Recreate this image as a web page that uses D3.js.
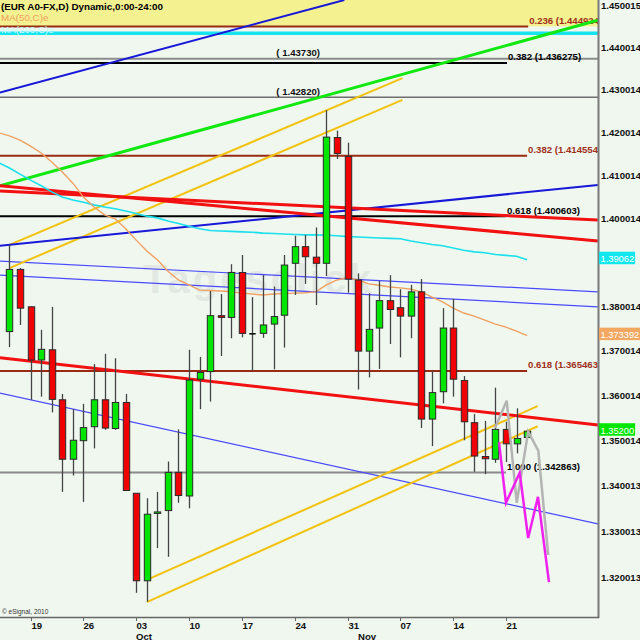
<!DOCTYPE html>
<html><head><meta charset="utf-8">
<script src="https://cdn.jsdelivr.net/npm/d3@7"></script>
<style>
body{margin:0;background:#eff7ef}
svg{display:block}
text{font-family:"Liberation Sans",Arial,sans-serif}
</style></head>
<body><svg id="c" width="640" height="640"></svg>
<script>
// ---------------- DATA ----------------
const dates = ["09-16","09-17","09-20","09-21","09-22","09-23","09-24","09-27","09-28","09-29","09-30","10-01",
"10-04","10-05","10-06","10-07","10-08","10-11","10-12","10-13","10-14","10-15","10-18","10-19","10-20","10-21","10-22",
"10-25","10-26","10-27","10-28","10-29","11-01","11-02","11-03","11-04","11-05","11-08","11-09","11-10","11-11","11-12",
"11-15","11-16","11-17","11-18","11-19","11-22","11-23","11-24"];
const open  = [1.3743,1.3884,1.3799,1.3679,1.3702,1.3590,1.3458,1.3499,1.3530,1.3590,1.3526,1.3584,1.3383,1.3192,1.3339,1.3345,1.3429,1.3377,1.3636,1.3653,1.3779,1.3775,1.3877,1.3738,1.3739,1.3760,1.3780,1.3898,1.3936,1.3912,1.3898,1.4188,1.4144,1.3860,1.3699,1.3751,1.3813,1.3797,1.3778,1.3833,1.3547,1.3608,1.3751,1.3633,1.3539,1.3464,1.3458,1.3524,1.3492,1.3506];
const high  = [1.3940,1.3887,1.3800,1.3747,1.3799,1.3603,1.3569,1.3581,1.3670,1.3693,1.3683,1.3603,1.3383,1.3372,1.3386,1.3453,1.3524,1.3702,1.3686,1.3835,1.3828,1.3896,1.3917,1.3821,1.3871,1.3845,1.3917,1.3961,1.3963,1.3980,1.4252,1.4204,1.4176,1.3875,1.3830,1.3858,1.3871,1.3839,1.3849,1.3862,1.3655,1.3796,1.3817,1.3643,1.3558,1.3543,1.3617,1.3541,1.3571,1.3521];
const low   = [1.3708,1.3758,1.3590,1.3597,1.3562,1.3386,1.3422,1.3364,1.3482,1.3523,1.3523,1.3389,1.3166,1.3147,1.3263,1.3244,1.3362,1.3350,1.3569,1.3586,1.3688,1.3728,1.3730,1.3655,1.3729,1.3658,1.3707,1.3826,1.3851,1.3803,1.3869,1.4138,1.3831,1.3613,1.3640,1.3659,1.3715,1.3685,1.3728,1.3527,1.3487,1.3582,1.3597,1.3500,1.3430,1.3425,1.3450,1.3452,1.3471,1.3506];
const close = [1.3884,1.3796,1.3679,1.3703,1.3591,1.3458,1.3500,1.3528,1.3590,1.3527,1.3584,1.3389,1.3192,1.3337,1.3342,1.3429,1.3378,1.3634,1.3651,1.3779,1.3775,1.3877,1.3739,1.3738,1.3758,1.3777,1.3894,1.3936,1.3913,1.3898,1.4189,1.4151,1.3862,1.3699,1.3748,1.3813,1.3793,1.3778,1.3833,1.3547,1.3606,1.3751,1.3636,1.3541,1.3465,1.3459,1.3524,1.3492,1.3504,1.3520];

// moving averages, bar index -1 .. 49
const maIndex = d3.range(-1, 50);
const ma50  = [1.4199,1.4192,1.4182,1.4168,1.4152,1.4131,1.4108,1.4082,1.4050,1.4027,1.4009,1.4000,1.3977,1.3951,1.3926,1.3906,1.3880,1.3860,1.3849,1.3837,1.3836,1.3835,1.3833,1.3830,1.3828,1.3826,1.3828,1.3829,1.3830,1.3831,1.3833,1.3849,1.3860,1.3865,1.3860,1.3851,1.3848,1.3844,1.3842,1.3839,1.3833,1.3821,1.3810,1.3796,1.3785,1.3778,1.3769,1.3760,1.3753,1.3744,1.3734];
const ma200 = [1.4129,1.4117,1.4103,1.4089,1.4076,1.4062,1.4050,1.4043,1.4038,1.4032,1.4027,1.4023,1.4018,1.4012,1.4006,1.4002,1.3995,1.3989,1.3983,1.3977,1.3973,1.3972,1.3971,1.3970,1.3969,1.3967,1.3966,1.3965,1.3964,1.3963,1.3963,1.3962,1.3961,1.3959,1.3958,1.3957,1.3956,1.3955,1.3954,1.3949,1.3945,1.3941,1.3938,1.3933,1.3928,1.3924,1.3922,1.3918,1.3916,1.3914,1.3906];

// trend lines: [startIndex, startPrice, endIndex, endPrice]
const trendBlueThick = [[-0.9,1.4293,31.7,1.4512],[-0.9,1.3938,55.7,1.4078]];
const trendGreen     = [[-0.9,1.4076,55.7,1.4464]];
const trendRed       = [[-0.9,1.4076,55.7,1.3949],[-0.9,1.4064,55.7,1.3997],[-0.9,1.3684,55.7,1.3534]];
const trendBlueThin  = [[-0.9,1.3903,55.7,1.3833],[-0.9,1.3871,55.7,1.3799],[-0.9,1.3605,55.7,1.3316]];
const trendGold      = [[0,1.3940,37.2,1.4327],[0,1.3887,37.2,1.4276],[13,1.3194,50,1.3576],[13,1.3146,50,1.3531]];

// projections
const grayIdx = [45.96,47.07,48.02,49.1,50.06,51.0];
const grayVal = [1.3527,1.3588,1.3362,1.3519,1.3477,1.3248];
const magIdx  = [46.34,47.0,48.3,49.1,50.03,51.07];
const magVal  = [1.3496,1.3362,1.3428,1.3285,1.3375,1.3189];

// fibonacci levels
const fibRatio = ["0.236","0.382","0.382","0.618","0.618","1.000"];
const fibPrice = [1.444924,1.436275,1.414554,1.400603,1.365463,1.342863];
const fibEnd   = [49.1,47.1,49.0,47.0,49.0,47.0];
// plain horizontal levels
const levelPrice = [1.43730,1.42820];
const levelLabelAt = [29.4,29.4];
const cyanLevel = 1.4433;

// axis ticks
const yTicks = [1.450015,1.440014,1.430014,1.420014,1.410014,1.400014,1.390014,1.380014,1.370014,1.360014,1.350014,1.340013,1.330013,1.320013];
const xTickIdx = [2,7,12,17,22,27,32,37,42,47];
const xTickLabel = ["19","26","03","10","17","24","31","07","14","21"];
const monthIdx = [12,33];
const monthLabel = ["Oct","Nov"];

// last values
const lastMA200 = 1.39062, lastMA50 = 1.373392, lastClose = 1.35200;

// ---------------- DRAW ----------------
const W=640,H=640,PR=598,PB=617;
const svg=d3.select('#c');
svg.append('rect').attr('width',W).attr('height',H).attr('fill','#eff7ef');
const x=d3.scaleLinear().domain([0,49]).range([9.47,527.1]);
const y=d3.scaleLog().domain([1.32,1.45]).range([577.1,5.06]);
svg.append('defs').append('clipPath').attr('id','clip').append('rect')
  .attr('x',0).attr('y',0).attr('width',PR).attr('height',PB);
const g=svg.append('g').attr('clip-path','url(#clip)');

// yellow band above 0.236
g.append('rect').attr('x',0).attr('y',0).attr('width',PR).attr('height',y(fibPrice[0])).attr('fill','#f3f190');

// watermark
g.append('text').attr('x',143).attr('y',293).text('Tagesclick')
  .attr('font-size',40).attr('font-weight','bold').attr('fill','#e2e9e2').attr('letter-spacing',3);

// cyan level
g.append('line').attr('x1',0).attr('x2',PR).attr('y1',y(cyanLevel)).attr('y2',y(cyanLevel))
  .attr('stroke','#16e4ee').attr('stroke-width',3.5);
// plain levels
const lvlStyle=[{c:'#8c8c8c',w:2},{c:'#6e6e6e',w:1.5}];
levelPrice.forEach((p,i)=>{
  g.append('line').attr('x1',0).attr('x2',PR).attr('y1',y(p)).attr('y2',y(p))
   .attr('stroke',lvlStyle[i].c).attr('stroke-width',lvlStyle[i].w);
  g.append('text').attr('x',x(levelLabelAt[i])).attr('y',y(p)-2.5).attr('text-anchor','end')
   .attr('font-size',9.6).attr('font-weight','bold').attr('fill','#111').text('( '+p.toFixed(5)+')');
});
// fib levels
const fibLine=['#9a2a12','#000','#9a2a12','#000','#9a2a12','#8a8a8a'];
const fibText=['#a0301a','#000','#a0301a','#000','#a0301a','#000'];
fibPrice.forEach((p,i)=>{
  const xe=x(fibEnd[i]);
  g.append('line').attr('x1',0).attr('x2',xe).attr('y1',y(p)).attr('y2',y(p))
   .attr('stroke',fibLine[i]).attr('stroke-width',2);
  g.append('text').attr('x',xe+1).attr('y',y(p)-2.5).attr('font-size',9.6).attr('font-weight','bold')
   .attr('fill',fibText[i]).text(fibRatio[i]+' ('+p.toFixed(6)+')');
});

// trend lines
function tl(arr,color,w){
  arr.forEach(d=>g.append('line').attr('x1',x(d[0])).attr('y1',y(d[1])).attr('x2',x(d[2])).attr('y2',y(d[3]))
    .attr('stroke',color).attr('stroke-width',w));
}
tl(trendBlueThin,'#4a4aff',1.2);
tl(trendGold,'#f2c20c',2);
tl(trendBlueThick,'#1818d8',2);
tl(trendGreen,'#10e810',3);
tl(trendRed,'#f21010',3);

// moving averages
const maLine=d3.line().x((d,i)=>x(maIndex[i])).y(d=>y(d));
g.append('path').datum(ma200).attr('d',maLine).attr('fill','none').attr('stroke','#18e0ec').attr('stroke-width',1.6);
g.append('path').datum(ma50).attr('d',maLine).attr('fill','none').attr('stroke','#f0a060').attr('stroke-width',1.4);

// candles
const bw=6.4;
const cg=g.append('g');
dates.forEach((dt,i)=>{
  const cx=Math.round(x(i))+0.5;
  cg.append('line').attr('x1',cx).attr('x2',cx).attr('y1',y(high[i])).attr('y2',y(low[i]))
    .attr('stroke','#444').attr('stroke-width',1.3);
  const o=open[i],c=close[i];
  if(o===c){
    cg.append('line').attr('x1',cx-bw/2).attr('x2',cx+bw/2).attr('y1',y(o)).attr('y2',y(o))
      .attr('stroke','#111').attr('stroke-width',1.6);
  } else {
    const top=y(Math.max(o,c)),bot=y(Math.min(o,c));
    cg.append('rect').attr('x',cx-bw/2).attr('y',top).attr('width',bw).attr('height',Math.max(bot-top,1.5))
      .attr('fill',c>o?'#00e600':'#f00000').attr('stroke','#2a2a2a').attr('stroke-width',1);
  }
});

// projections
const zl=(ix)=>d3.line().x((d,i)=>x(ix[i])).y(d=>y(d));
g.append('path').datum(grayVal).attr('d',zl(grayIdx)).attr('fill','none').attr('stroke','#b4b4b4').attr('stroke-width',2.5);
g.append('path').datum(magVal).attr('d',zl(magIdx)).attr('fill','none').attr('stroke','#f020f0').attr('stroke-width',2.5);

// copyright
g.append('text').attr('x',2).attr('y',614).attr('font-size',6.5).attr('fill','#333').text('\u00a9 eSignal, 2010');

// axes
svg.append('line').attr('x1',PR+0.5).attr('x2',PR+0.5).attr('y1',0).attr('y2',PB+1).attr('stroke','#7a7a7a').attr('stroke-width',2);
svg.append('line').attr('x1',0).attr('x2',PR+1).attr('y1',PB+0.5).attr('y2',PB+0.5).attr('stroke','#666').attr('stroke-width',1.5);
const boxVals=[lastMA200,lastMA50,lastClose];
const ya=svg.append('g');
yTicks.forEach(v=>{
  // labels hidden behind the last-value boxes are not drawn (as in the reference)
  if(boxVals.some(b=>Math.abs(y(b)-y(v))<5)) return;
  ya.append('text').attr('x',601).attr('y',y(v)+3.5).attr('font-size',9.6).attr('font-weight','bold')
    .attr('fill','#111').text(v.toFixed(6));
});
const xa=svg.append('g');
xTickIdx.forEach((ix,k)=>{
  const xx=Math.round(x(ix))+0.5;
  xa.append('line').attr('x1',xx).attr('x2',xx).attr('y1',PB+1).attr('y2',PB+4).attr('stroke','#666');
  xa.append('text').attr('x',xx).attr('y',629).attr('font-size',9.6).attr('font-weight','bold').attr('fill','#111').text(xTickLabel[k]);
});
monthIdx.forEach((ix,k)=>{
  xa.append('text').attr('x',Math.round(x(ix))).attr('y',639.5).attr('font-size',9.6).attr('font-weight','bold').attr('fill','#111').text(monthLabel[k]);
});

// legend
svg.append('text').attr('x',1).attr('y',10).attr('font-size',9.8).attr('font-weight','bold').attr('fill','#000').text('(EUR A0-FX,D) Dynamic,0:00-24:00');
svg.append('text').attr('x',1).attr('y',21).attr('font-size',9.8).attr('fill','#f0a060').text('MA(50,C)e');
svg.append('text').attr('x',1).attr('y',33).attr('font-size',9.8).attr('fill','#c8ffff').text('MA(200,C)e');

// last value boxes
function box(v,txt,color){
  const yy=y(v)-1.5;
  const bg=svg.append('g');
  const r=bg.append('rect').attr('x',599).attr('y',yy-6.5).attr('height',12.5).attr('fill',color);
  const t=bg.append('text').attr('x',600.5).attr('y',yy+3.8).attr('font-size',9.3).attr('fill','#fff').text(txt);
  r.attr('width',Math.min(t.node().getComputedTextLength()+2.5,41));
}
box(lastMA200,'1.39062','#10e8ee');
box(lastMA50,'1.373392','#f2a860');
box(lastClose,'1.35200','#00e600');
</script></body></html>
